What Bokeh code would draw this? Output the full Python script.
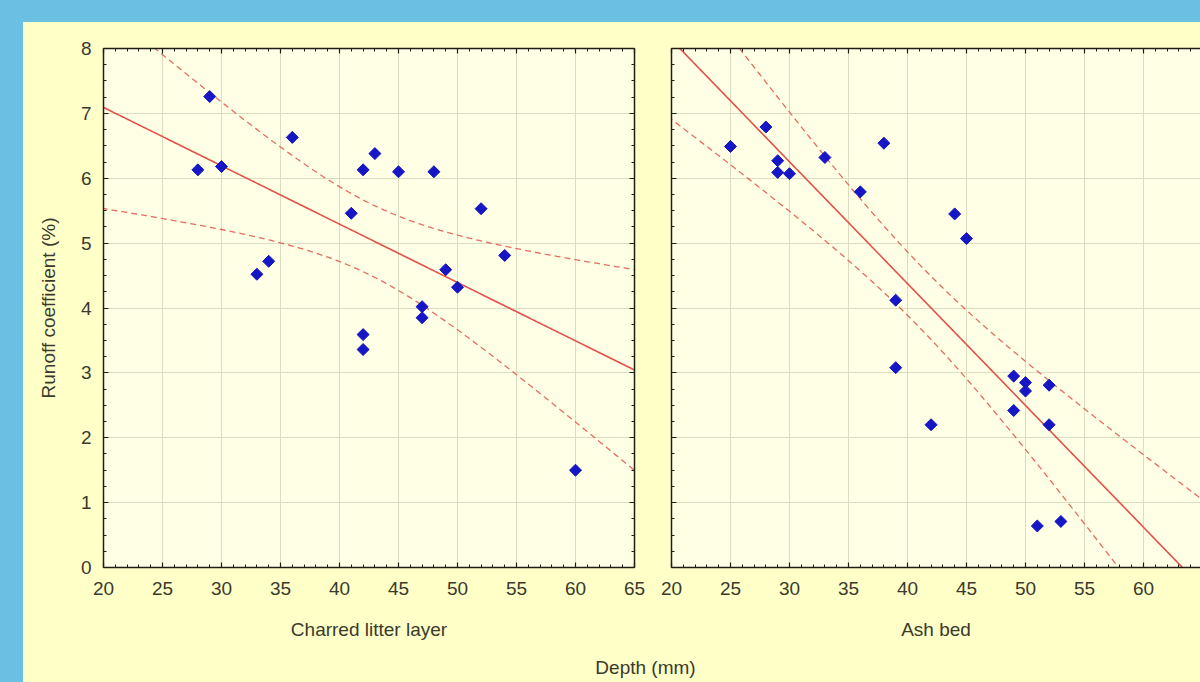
import numpy as np
from bokeh.plotting import figure
from bokeh.layouts import row, column
from bokeh.models import Div, Label, LinearAxis, Range1d, FixedTicker, Grid, CustomJSTickFormatter
from bokeh.embed import file_html
from bokeh.resources import INLINE

# ---------------- data ----------------
charred_depth = [28, 29, 30, 33, 34, 36, 41, 42, 43, 42, 42, 45, 48, 47, 47, 49, 50, 52, 54, 60]
charred_runoff = [6.13, 7.26, 6.18, 4.52, 4.72, 6.63, 5.46, 6.13, 6.38, 3.59, 3.36, 6.10, 6.10,
                  4.02, 3.85, 4.59, 4.32, 5.53, 4.81, 1.50]

ash_depth = [25, 28, 29, 29, 30, 33, 36, 38, 39, 39, 42, 44, 45, 49, 49, 50, 50, 51, 52, 52, 53]
ash_runoff = [6.49, 6.79, 6.27, 6.09, 6.07, 6.32, 5.79, 6.54, 4.12, 3.08, 2.20, 5.45, 5.07,
              2.95, 2.42, 2.85, 2.72, 0.64, 2.81, 2.20, 0.71]

x_ticks = [20, 25, 30, 35, 40, 45, 50, 55, 60, 65]
y_ticks = [0, 1, 2, 3, 4, 5, 6, 7, 8]
panel_titles = ["Charred litter layer", "Ash bed"]
x_title = "Depth (mm)"
y_title = "Runoff coefficient (%)"
t_975 = {18: 2.1009, 19: 2.0930}   # two-sided 95 % Student t

# ---------------- style ----------------
BLUE = "#6BBFE0"
OUTER = "#FFFFC8"
INNER = "#FFFFE6"
GRID = "#DCDCC0"
AXIS = "#1E1E14"
TEXT = "#3A3A2C"
RED = "#E2524A"
DOT = "#1616C4"
FONT = "Liberation Sans"

TOP_BAND = 22
LEFT_BAND = 23
FIG_H = 630
BORDER_TOP = 26
FRAME_H = 519
BOTTOM_H = 682 - TOP_BAND - FIG_H
PX_PER_MM = 531 / 45.0


def fit_and_bands(xs, ys, grid):
    x = np.asarray(xs, float)
    y = np.asarray(ys, float)
    n = len(x)
    slope, icpt = np.polyfit(x, y, 1)
    yhat = icpt + slope * grid
    resid = y - (icpt + slope * x)
    s = np.sqrt(np.sum(resid ** 2) / (n - 2))
    sxx = np.sum((x - x.mean()) ** 2)
    se = s * np.sqrt(1.0 / n + (grid - x.mean()) ** 2 / sxx)
    t = t_975[n - 2]
    return yhat, yhat - t * se, yhat + t * se


def style_axis(ax, labels=True):
    ax.axis_line_color = AXIS
    ax.axis_line_width = 1.5
    ax.major_tick_line_color = AXIS
    ax.minor_tick_line_color = AXIS
    ax.major_tick_in = 5
    ax.major_tick_out = 0
    ax.minor_tick_in = 3
    ax.minor_tick_out = 0
    ax.major_tick_line_width = 1.2
    ax.minor_tick_line_width = 1
    ax.major_label_text_font = FONT
    ax.major_label_text_font_size = "19px"
    ax.major_label_text_color = TEXT
    ax.axis_label_text_font = FONT
    ax.axis_label_text_font_size = "19px"
    ax.axis_label_text_font_style = "normal"
    ax.axis_label_text_color = TEXT
    if not labels:
        ax.formatter = CustomJSTickFormatter(code="return '';")
        ax.major_label_standoff = 0


def make_panel(xs, ys, title, width, mbl, mbr, x_end, first):
    p = figure(width=width, height=FIG_H,
               x_range=Range1d(20, x_end), y_range=Range1d(0, 8),
               output_backend="svg", toolbar_location=None,
               min_border_left=mbl, min_border_right=mbr,
               min_border_top=BORDER_TOP, min_border_bottom=FIG_H - BORDER_TOP - FRAME_H,
               background_fill_color=INNER, border_fill_color=OUTER,
               outline_line_color=None,
               x_axis_location=None, y_axis_location=None)
    for g in p.grid:
        g.visible = False

    xt = FixedTicker(ticks=x_ticks, minor_ticks=list(range(20, 66)))
    yt = FixedTicker(ticks=y_ticks, minor_ticks=[i * 0.25 for i in range(33)])

    p.add_layout(Grid(dimension=0, ticker=xt, grid_line_color=GRID, grid_line_width=1))
    p.add_layout(Grid(dimension=1, ticker=yt, grid_line_color=GRID, grid_line_width=1))

    bottom = LinearAxis(ticker=xt, axis_label=title)
    style_axis(bottom)
    bottom.major_label_standoff = 14
    bottom.axis_label_standoff = 21
    p.add_layout(bottom, "below")

    top = LinearAxis(ticker=xt)
    style_axis(top, labels=False)
    p.add_layout(top, "above")

    left = LinearAxis(ticker=yt, axis_label=y_title if first else None)
    style_axis(left, labels=first)
    if first:
        left.major_label_standoff = 12
        left.axis_label_standoff = 19
    p.add_layout(left, "left")

    if first:
        right = LinearAxis(ticker=yt)
        style_axis(right, labels=False)
        p.add_layout(right, "right")

    grid_x = np.linspace(19, 66, 200)
    yhat, lo, hi = fit_and_bands(xs, ys, grid_x)
    p.line(grid_x, yhat, line_color=RED, line_width=1.6)
    p.line(grid_x, lo, line_color=RED, line_width=1.3, line_dash="6 4", line_alpha=0.85)
    p.line(grid_x, hi, line_color=RED, line_width=1.3, line_dash="6 4", line_alpha=0.85)

    p.scatter(xs, ys, marker="square", angle=np.pi / 4, size=8.5,
              fill_color=DOT, line_color=DOT, line_width=1)
    return p


LEFT_W = 629
RIGHT_W = 1200 - LEFT_BAND - LEFT_W
left_fig = make_panel(charred_depth, charred_runoff, panel_titles[0],
                      width=LEFT_W, mbl=80, mbr=18, x_end=65, first=True)
right_fig = make_panel(ash_depth, ash_runoff, panel_titles[1],
                       width=RIGHT_W, mbl=19, mbr=0,
                       x_end=20 + (RIGHT_W - 19) / PX_PER_MM, first=False)

BOTTOM_W = LEFT_W + RIGHT_W
bottom_fig = figure(width=BOTTOM_W, height=BOTTOM_H, x_range=Range1d(0, 1), y_range=Range1d(0, 1),
                    output_backend="svg", toolbar_location=None, min_border=0,
                    x_axis_location=None, y_axis_location=None,
                    background_fill_color=OUTER, border_fill_color=OUTER,
                    outline_line_color=None)
for g in bottom_fig.grid:
    g.visible = False
bottom_fig.add_layout(Label(x=(645 - LEFT_BAND) / BOTTOM_W, y=0.5, text=x_title,
                            text_align="center", text_baseline="middle", text_font=FONT,
                            text_font_size="19px", text_color=TEXT))

top_band = Div(text="", width=1200, height=TOP_BAND, margin=0,
               styles={"background-color": BLUE})
left_band = Div(text="", width=LEFT_BAND, height=FIG_H + BOTTOM_H, margin=0,
                styles={"background-color": BLUE})

panels = column(row(left_fig, right_fig, spacing=0,
                    styles={"background-color": OUTER}),
                bottom_fig, spacing=0,
                styles={"background-color": OUTER})

p = column(top_band,
           row(left_band, panels, spacing=0),
           spacing=0)

open("out.html", "w").write(file_html(p, INLINE))
